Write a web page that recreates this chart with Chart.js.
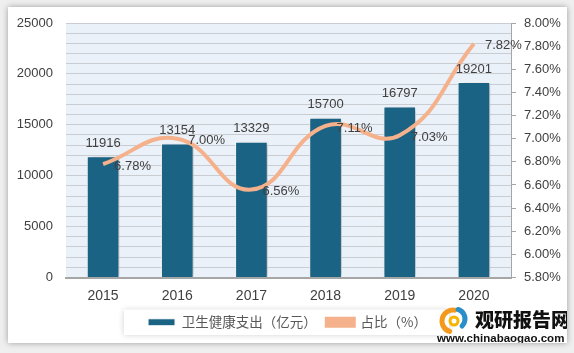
<!DOCTYPE html>
<html>
<head>
<meta charset="utf-8">
<script src="https://cdn.jsdelivr.net/npm/chart.js@4/dist/chart.umd.min.js"></script>
<style>
  body { margin: 0; background: #efefef; width: 574px; height: 353px; overflow: hidden; }
  .card {
    position: absolute; left: 8px; top: 7px; width: 559px; height: 336px;
    background: #fff; box-shadow: 0 0 6px rgba(0, 0, 0, 0.35);
  }
  canvas { display: block; }
</style>
</head>
<body>
<div class="card"><canvas id="chart" width="559" height="336"></canvas></div>
<script>
const years = ['2015', '2016', '2017', '2018', '2019', '2020']
const spending = [11916, 13154, 13329, 15700, 16797, 19201]
const share = [6.78, 7.0, 6.56, 7.11, 7.03, 7.82]
const barLabel = '卫生健康支出（亿元）'
const lineLabel = '占比（%）'

const barColor = '#1b6384'
const lineColor = '#f5b18c'
const textColor = '#404040'
const numFont = "'Liberation Sans', Arial, sans-serif"
const cnFont = "'Noto Sans CJK SC', 'Liberation Sans', sans-serif"

// light blue plot background + legend frame
const backdrop = {
  id: 'backdrop',
  beforeDraw(chart) {
    const { ctx, chartArea: a } = chart
    ctx.save()
    ctx.fillStyle = '#eaf1f8'
    ctx.fillRect(a.left, a.top, a.right - a.left, a.bottom - a.top)

    const boxes = chart.legend.legendHitBoxes
    if (boxes && boxes.length) {
      const left = Math.min(...boxes.map((b) => b.left)) - 24
      const right = Math.max(...boxes.map((b) => b.left + b.width)) + 22
      const top = boxes[0].top - 6
      const h = boxes[0].height + 12
      ctx.shadowColor = 'rgba(0,0,0,0.18)'
      ctx.shadowBlur = 6
      ctx.fillStyle = '#fff'
      ctx.fillRect(left, top, right - left, h)
    }
    ctx.restore()
  },
}

// soft shadow to the right of the bars
const barShadow = {
  id: 'barShadow',
  beforeDatasetDraw(chart, args) {
    if (args.index !== 0) return
    const { ctx } = chart
    ctx.save()
    ctx.shadowColor = 'rgba(0,0,0,0.3)'
    ctx.shadowBlur = 5
    ctx.shadowOffsetX = 2
    ctx.shadowOffsetY = 1
  },
  afterDatasetDraw(chart, args) {
    if (args.index !== 0) return
    chart.ctx.restore()
  },
}

// value labels on bars and line
const valueLabels = {
  id: 'valueLabels',
  afterDatasetsDraw(chart) {
    const { ctx } = chart
    ctx.save()
    ctx.fillStyle = textColor
    ctx.font = '13px ' + numFont
    ctx.textBaseline = 'middle'

    chart.getDatasetMeta(0).data.forEach((bar, i) => {
      ctx.textAlign = 'center'
      ctx.fillText(String(spending[i]), bar.x, bar.y - 13)
    })
    chart.getDatasetMeta(1).data.forEach((pt, i) => {
      ctx.textAlign = 'left'
      ctx.fillText(share[i].toFixed(2) + '%', pt.x + 11, pt.y + 2)
    })
    ctx.restore()
  },
}

// site watermark in the corner
const watermark = {
  id: 'watermark',
  afterDraw(chart) {
    const { ctx } = chart
    ctx.save()
    // little swirl logo
    ctx.lineCap = 'round'
    ctx.lineWidth = 5
    ctx.strokeStyle = '#f39a1e'
    ctx.beginPath()
    ctx.arc(445, 314, 11, Math.PI * 0.6, Math.PI * 1.55)
    ctx.stroke()
    ctx.strokeStyle = '#2a8fc9'
    ctx.beginPath()
    ctx.arc(447, 312, 10, Math.PI * 1.6, Math.PI * 0.25)
    ctx.stroke()
    ctx.strokeStyle = '#f6b400'
    ctx.lineWidth = 3
    ctx.beginPath()
    ctx.arc(446, 314, 4, 0, Math.PI * 2)
    ctx.stroke()

    ctx.fillStyle = '#111'
    ctx.textBaseline = 'middle'
    ctx.textAlign = 'left'
    ctx.font = "900 19px 'Noto Sans CJK SC', sans-serif"
    ctx.fillText('观研报告网', 467, 313)
    ctx.font = 'bold 11.5px ' + numFont
    ctx.fillText('www.chinabaogao.com', 429, 332)
    ctx.restore()
  },
}

// fixed axis widths, no extra label overflow padding
const fitY = (w) => (s) => {
  s.width = w
  s.paddingTop = 0
  s.paddingBottom = 0
}

new Chart(document.getElementById('chart'), {
  data: {
    labels: years,
    datasets: [
      {
        type: 'bar',
        label: barLabel,
        data: spending,
        yAxisID: 'y',
        backgroundColor: barColor,
        borderColor: '#ffffff',
        borderWidth: 1,
        categoryPercentage: 1,
        barPercentage: 0.44,
        order: 2,
      },
      {
        type: 'line',
        label: lineLabel,
        data: share,
        yAxisID: 'y1',
        borderColor: lineColor,
        backgroundColor: lineColor,
        borderWidth: 4,
        pointRadius: 0,
        tension: 0.45,
        fill: false,
        order: 1,
      },
    ],
  },
  options: {
    responsive: false,
    animation: false,
    layout: { padding: { top: 16, left: 0, right: 0, bottom: 4 } },
    scales: {
      x: {
        grid: { display: false, drawTicks: false },
        border: { color: '#a6a6a6', width: 2 },
        ticks: { color: textColor, font: { size: 14, family: numFont }, padding: 10 },
        afterFit: (s) => { s.height = 28 },
      },
      y: {
        position: 'left',
        min: 0,
        max: 25000,
        grid: { color: '#c9cdd2', drawTicks: false },
        border: { display: false },
        ticks: {
          stepSize: 1000,
          autoSkip: false,
          padding: 13,
          color: textColor,
          font: { size: 13, family: numFont },
          callback: (v) => (v % 5000 === 0 ? String(v) : ''),
        },
        afterFit: fitY(58),
      },
      y1: {
        position: 'right',
        min: 5.8,
        max: 8.0,
        grid: { drawOnChartArea: false, color: '#a6a6a6', tickLength: 5 },
        border: { color: '#a6a6a6' },
        ticks: {
          stepSize: 0.2,
          autoSkip: false,
          padding: 8,
          color: textColor,
          font: { size: 13, family: numFont },
          callback: (v) => Number(v).toFixed(2) + '%',
        },
        afterFit: fitY(56),
      },
    },
    plugins: {
      tooltip: { enabled: false },
      legend: {
        position: 'bottom',
        labels: {
          color: '#595959',
          font: { size: 13.5, family: cnFont },
          boxWidth: 27,
          boxHeight: 7,
          padding: 10,
          sort: (a, b) => a.datasetIndex - b.datasetIndex,
        },
      },
    },
  },
  plugins: [backdrop, barShadow, valueLabels, watermark],
})
</script>
</body>
</html>
